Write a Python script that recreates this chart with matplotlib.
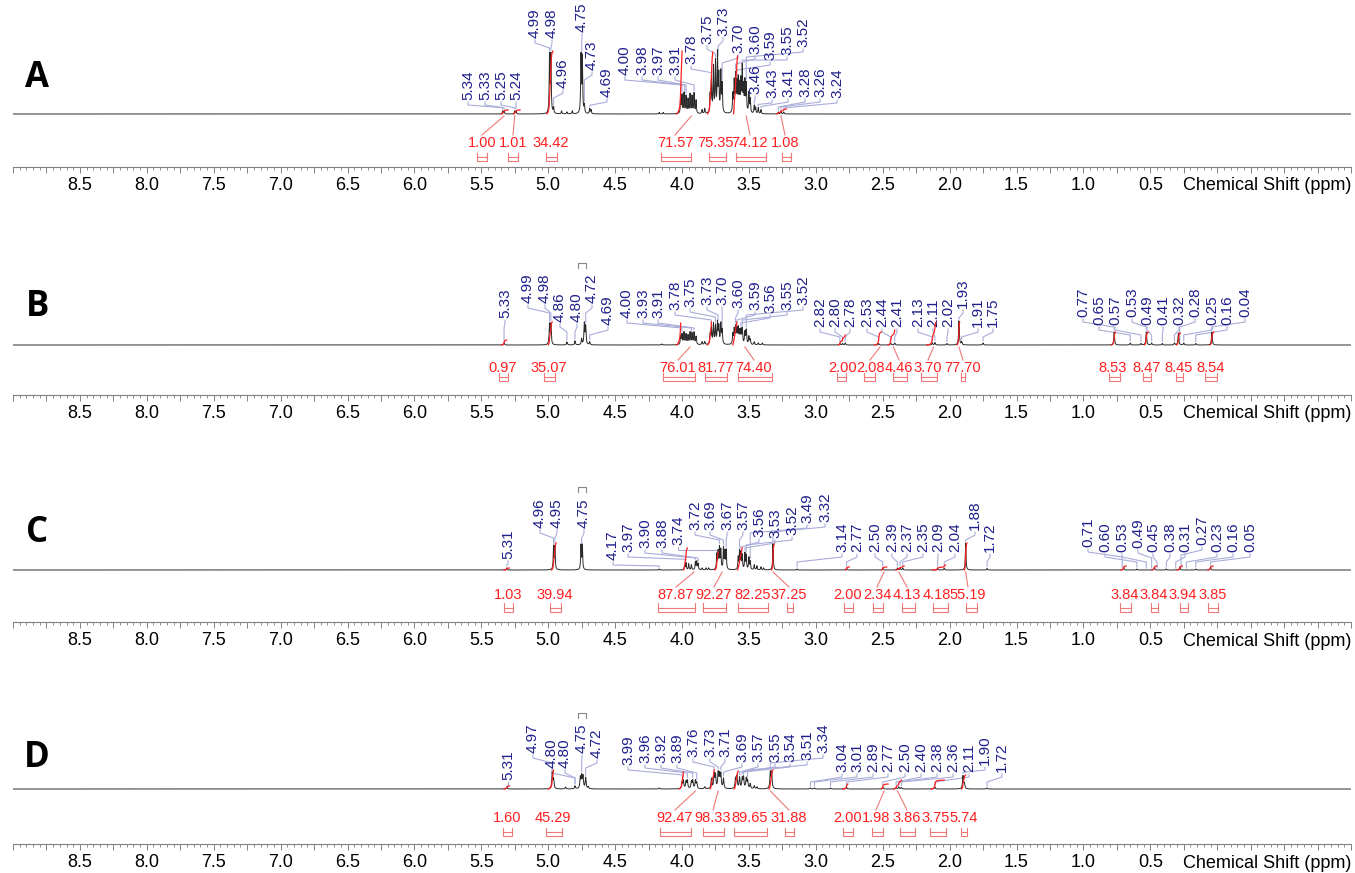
import numpy as np
import matplotlib
matplotlib.use("Agg")
import matplotlib.pyplot as plt
from matplotlib.ticker import MultipleLocator
import matplotlib.transforms as mtransforms

plt.rcParams['font.family'] = ['Liberation Sans', 'DejaVu Sans']

# ====================== DATA ======================
# --- Panel A ---
A_peak_ppm = [5.34, 5.33, 5.25, 5.24, 4.99, 4.98, 4.96, 4.90, 4.86, 4.82, 4.755, 4.745, 4.73, 4.69, 4.68,
              4.17, 4.14, 4.01, 4.00, 3.985, 3.97, 3.955, 3.94, 3.925, 3.91, 3.895, 3.85, 3.83,
              3.79, 3.78, 3.765, 3.75, 3.735, 3.725, 3.71, 3.70,
              3.62, 3.61, 3.60, 3.59, 3.58, 3.57, 3.56, 3.55, 3.54, 3.53, 3.52, 3.50, 3.49,
              3.46, 3.45, 3.43, 3.41, 3.28, 3.26, 3.24]
A_peak_int = [3, 3, 3, 3, 57, 57, 6, 3, 2, 3, 57, 55, 8, 5, 4,
              1.5, 1.5, 14, 18, 20, 17, 14, 19, 17, 20, 13, 4, 5,
              18, 34, 45, 50, 58, 36, 40, 28,
              18, 30, 36, 28, 32, 26, 30, 44, 24, 30, 28, 20, 14,
              8, 6, 6, 4, 2, 3, 2]
A_labels = ["5.34", "5.33", "5.25", "5.24", "4.99", "4.98", "4.96", "4.75", "4.73", "4.69",
            "4.00", "3.98", "3.97", "3.91", "3.78", "3.75", "3.73", "3.70", "3.60", "3.59",
            "3.55", "3.52", "3.46", "3.43", "3.41", "3.28", "3.26", "3.24"]
A_int_values = ["1.00", "1.01", "34.42", "71.57", "75.35", "74.12", "1.08"]
A_int_leader = [5.33, 5.25, None, 3.93, None, 3.52, 3.26]
A_int_curve_from = [5.35, 5.26, 5.01, 4.04, 3.81, 3.615, 3.29]
A_int_curve_to = [5.30, 5.21, 4.965, 4.00, 3.77, 3.585, 3.22]
A_int_curve_h = [4, 4, 63, 63, 62, 58, 5]

# --- Panel B ---
B_peak_ppm = [5.33, 4.99, 4.98, 4.86, 4.80, 4.75, 4.73, 4.72, 4.69, 4.15,
              4.01, 4.00, 3.985, 3.97, 3.955, 3.94, 3.925, 3.91, 3.895, 3.85, 3.83,
              3.79, 3.78, 3.765, 3.75, 3.735, 3.725, 3.71, 3.70,
              3.62, 3.61, 3.60, 3.59, 3.58, 3.57, 3.56, 3.55, 3.53, 3.52, 3.50, 3.49, 3.46, 3.43, 3.40,
              2.82, 2.80, 2.78, 2.53, 2.44, 2.41, 2.13, 2.11, 2.02, 1.93, 1.91, 1.75,
              0.77, 0.65, 0.57, 0.53, 0.49, 0.41, 0.32, 0.29, 0.25, 0.16, 0.04]
B_peak_int = [2, 20, 20, 3, 4, 6, 21, 18, 3, 1,
              8, 10, 12, 10, 9, 12, 11, 12, 8, 3, 3,
              10, 16, 20, 18, 21, 17, 20, 14,
              10, 14, 16, 14, 15, 12, 13, 15, 12, 14, 8, 5, 3, 2, 2,
              1.5, 1.5, 2, 1.5, 2, 2, 2, 2.5, 1.5, 24, 3, 2,
              13, 2, 1.5, 13, 2, 1.5, 2, 12, 2, 1.5, 13]
B_labels = ["5.33", "4.99", "4.98", "4.86", "4.80", "4.72", "4.69", "4.00", "3.93", "3.91",
            "3.78", "3.75", "3.73", "3.70", "3.60", "3.59", "3.56", "3.55", "3.52",
            "2.82", "2.80", "2.78", "2.53", "2.44", "2.41", "2.13", "2.11", "2.02", "1.93", "1.91", "1.75",
            "0.77", "0.65", "0.57", "0.53", "0.49", "0.41", "0.32", "0.28", "0.25", "0.16", "0.04"]
B_int_values = ["0.97", "35.07", "76.01", "81.77", "74.40", "2.00", "2.08", "4.46", "3.70", "77.70",
                "8.53", "8.47", "8.45", "8.54"]
B_int_leader = [None, None, 3.94, None, 3.53, None, 2.52, 2.42, 2.12, 1.93, None, None, None, None]
B_int_curve_from = [5.35, 5.00, 4.04, 3.81, 3.62, 2.83, 2.56, 2.46, 2.17, 1.945, 0.79, 0.545, 0.305, 0.055]
B_int_curve_to = [5.31, 4.97, 4.01, 3.78, 3.59, 2.78, 2.51, 2.41, 2.10, 1.925, 0.76, 0.515, 0.275, 0.025]
B_int_curve_h = [5, 23, 22, 23, 23, 10, 13, 15, 23, 23, 13, 13, 12, 13]

# --- Panel C ---
C_peak_ppm = [5.31, 4.96, 4.95, 4.755, 4.745, 4.17,
              3.98, 3.97, 3.95, 3.93, 3.90, 3.89, 3.88, 3.85, 3.82, 3.80,
              3.74, 3.73, 3.72, 3.71, 3.69, 3.68, 3.67,
              3.58, 3.57, 3.56, 3.55, 3.53, 3.52, 3.50, 3.49, 3.46, 3.44, 3.41, 3.39,
              3.32, 3.14, 2.77, 2.50, 2.39, 2.37, 2.35, 2.09, 2.04, 1.88, 1.72,
              0.70, 0.60, 0.47, 0.38, 0.28, 0.16, 0.05]
C_peak_int = [2, 23, 23, 24, 24, 1,
              5, 7, 6, 5, 8, 8, 6, 2, 2, 2,
              15, 17, 21, 19, 21, 17, 19,
              12, 18, 16, 14, 16, 14, 12, 8, 5, 4, 3, 2,
              26, 1, 2, 2, 2, 2.5, 2, 2, 2, 27, 1.5,
              3, 1, 3, 1, 3, 1, 3]
C_labels = ["5.31", "4.96", "4.95", "4.75", "4.17", "3.97", "3.90", "3.88", "3.74", "3.72",
            "3.69", "3.67", "3.57", "3.56", "3.53", "3.52", "3.49", "3.32", "3.14", "2.77",
            "2.50", "2.39", "2.37", "2.35", "2.09", "2.04", "1.88", "1.72",
            "0.71", "0.60", "0.53", "0.49", "0.45", "0.38", "0.31", "0.27", "0.23", "0.16", "0.05"]
C_int_values = ["1.03", "39.94", "87.87", "92.27", "82.25", "37.25", "2.00", "2.34", "4.13", "4.18",
                "55.19", "3.84", "3.84", "3.94", "3.85"]
C_int_leader = [None, None, 3.91, 3.70, None, 3.32, None, 2.49, 2.38, None, 1.88, None, None, None, None]
C_int_curve_from = [5.33, 4.975, 3.99, 3.755, 3.585, 3.33, 2.78, 2.51, 2.40, 2.13, 1.89, 0.72, 0.49, 0.30, 0.07]
C_int_curve_to = [5.29, 4.94, 3.96, 3.73, 3.55, 3.31, 2.75, 2.47, 2.34, 2.03, 1.87, 0.68, 0.45, 0.26, 0.03]
C_int_curve_h = [2, 27, 22, 18, 22, 26, 3, 3, 4, 5, 27, 4, 4, 4, 4]

# --- Panel D ---
D_peak_ppm = [5.31, 4.97, 4.96, 4.87, 4.80, 4.76, 4.75, 4.74, 4.72, 4.70, 4.17,
              4.00, 3.99, 3.97, 3.96, 3.93, 3.92, 3.90, 3.89, 3.83,
              3.78, 3.76, 3.75, 3.73, 3.72, 3.71, 3.69,
              3.60, 3.59, 3.57, 3.55, 3.54, 3.52, 3.51, 3.49, 3.46, 3.44,
              3.34, 3.33, 3.04, 3.01, 2.89, 2.77, 2.50, 2.40, 2.38, 2.36, 2.11, 1.90, 1.89, 1.72]
D_peak_int = [2, 16, 9, 2, 3, 11, 12, 12, 11, 2, 1,
              6, 8, 7, 8, 7, 8, 8, 6, 2,
              10, 14, 13, 15, 13, 14, 10,
              10, 12, 11, 10, 11, 10, 8, 5, 3, 2,
              16, 16, 1, 1, 1, 1.5, 2, 1.5, 2, 1.5, 2, 13, 5, 1]
D_labels = ["5.31", "4.97", "4.80", "4.80", "4.75", "4.72", "3.99", "3.96", "3.92", "3.89",
            "3.76", "3.73", "3.71", "3.69", "3.57", "3.55", "3.54", "3.51", "3.34",
            "3.04", "3.01", "2.89", "2.77", "2.50", "2.40", "2.38", "2.36", "2.11", "1.90", "1.72"]
D_int_values = ["1.60", "45.29", "92.47", "98.33", "89.65", "31.88", "2.00", "1.98", "3.86", "3.75", "5.74"]
D_int_leader = [None, None, 3.90, 3.73, None, 3.34, None, 2.49, 2.39, None, None]
D_int_curve_from = [5.33, 5.00, 4.02, 3.79, 3.61, 3.35, 2.80, 2.51, 2.42, 2.14, 1.91]
D_int_curve_to = [5.29, 4.96, 3.99, 3.76, 3.58, 3.32, 2.76, 2.46, 2.36, 2.04, 1.88]
D_int_curve_h = [3, 19, 17, 19, 18, 19, 5, 5, 9, 9, 14]

# ====================== LAYOUT (reference pixel positions) ======================
FW, FH = 1355.0, 873.0
X_LEFT, X_RIGHT = 13.0, 1351.0
PPM_LEFT, PPM_RIGHT = 9.0, -1.0


def col2ppm(x):
    return PPM_LEFT + (x - X_LEFT) / (X_RIGHT - X_LEFT) * (PPM_RIGHT - PPM_LEFT)


A_label_x = [468, 485, 501, 516, 535, 552, 563, 582, 592, 607, 625, 642, 658, 675, 691, 707, 723, 738,
             755, 770, 787, 803, 755, 772, 788, 805, 820, 837]
A_label_y = [100, 100, 100, 100, 38, 38, 88, 32, 70, 97, 75, 75, 75, 75, 64, 44, 36, 53,
             54, 60, 55, 47, 94, 98, 97, 97, 97, 98]
A_int_x = [482, 513, 551, 675, 715, 750, 785]
A_int_br = [(477, 487), (508, 518), (546, 557), (661, 691), (709, 726), (736, 766), (782, 791)]

B_label_x = [505, 528, 545, 560, 577, 592, 608, 627, 643, 658, 675, 690, 707, 722, 738, 755, 770, 787, 803,
             820, 835, 850, 867, 882, 897, 918, 933, 948, 963, 978, 993,
             1083, 1099, 1115, 1132, 1147, 1163, 1179, 1195, 1212, 1227, 1245]
B_label_y = [318, 303, 303, 322, 322, 303, 325, 318, 318, 318, 310, 307, 305, 305, 308, 310, 313, 310, 305,
             327, 327, 327, 327, 327, 327, 327, 327, 327, 308, 327, 327,
             317, 325, 325, 317, 325, 325, 325, 317, 325, 325, 317]
B_int_x = [503, 549, 678, 716, 754, 843, 870, 899, 928, 963, 1113, 1147, 1179, 1211]
B_int_br = [(499, 508), (544, 555), (663, 695), (705, 727), (738, 772), (837, 846), (864, 875), (893, 907),
            (921, 937), (961, 965), (1109, 1120), (1143, 1151), (1176, 1183), (1205, 1217)]

C_label_x = [508, 540, 557, 584, 613, 628, 645, 662, 678, 695, 710, 727, 743, 759, 775, 792, 807, 825,
             842, 857, 875, 892, 907, 923, 938, 955, 975, 990,
             1088, 1105, 1122, 1138, 1153, 1170, 1185, 1202, 1217, 1233, 1250]
C_label_y = [559, 528, 528, 528, 560, 552, 548, 548, 545, 530, 530, 530, 530, 537, 538, 535, 523, 522,
             552, 552, 552, 552, 552, 552, 552, 552, 530, 552,
             547, 552, 552, 548, 552, 552, 552, 545, 552, 552, 552]
C_int_x = [508, 555, 676, 714, 753, 789, 848, 877, 907, 937, 968, 1125, 1154, 1183, 1213]
C_int_br = [(504, 513), (550, 561), (658, 695), (703, 726), (738, 768), (787, 793), (844, 853), (873, 883),
            (902, 915), (933, 948), (966, 977), (1120, 1131), (1151, 1158), (1180, 1188), (1208, 1218)]

D_label_x = [508, 533, 552, 565, 582, 597, 628, 645, 661, 677, 693, 710, 725, 742, 758, 775, 790, 807, 823,
             842, 857, 873, 888, 905, 921, 937, 953, 969, 985, 1002]
D_label_y = [780, 753, 768, 768, 753, 758, 765, 763, 763, 763, 757, 757, 757, 762, 762, 762, 762, 760, 753,
             772, 772, 772, 772, 772, 772, 772, 772, 772, 765, 772]
D_int_x = [507, 553, 675, 713, 750, 789, 848, 876, 907, 936, 964]
D_int_br = [(503, 512), (546, 562), (660, 691), (703, 724), (734, 767), (785, 794), (843, 853), (872, 883),
            (900, 915), (930, 946), (961, 967)]

panels = [
    dict(name="A", ppm=A_peak_ppm, inten=A_peak_int, width=0.003, labels=A_labels, lx=A_label_x, ly=A_label_y,
         ivals=A_int_values, ix=A_int_x, ibr=A_int_br, ilead=A_int_leader,
         cf=A_int_curve_from, ct=A_int_curve_to, ch=A_int_curve_h,
         top=0, base=114, ilab=143, br=(153, 161), axis=167, letter=78, mark=None),
    dict(name="B", ppm=B_peak_ppm, inten=B_peak_int, width=0.0035, labels=B_labels, lx=B_label_x, ly=B_label_y,
         ivals=B_int_values, ix=B_int_x, ibr=B_int_br, ilead=B_int_leader,
         cf=B_int_curve_from, ct=B_int_curve_to, ch=B_int_curve_h,
         top=250, base=345, ilab=368, br=(373, 381), axis=395, letter=307, mark=(263, 268)),
    dict(name="C", ppm=C_peak_ppm, inten=C_peak_int, width=0.003, labels=C_labels, lx=C_label_x, ly=C_label_y,
         ivals=C_int_values, ix=C_int_x, ibr=C_int_br, ilead=C_int_leader,
         cf=C_int_curve_from, ct=C_int_curve_to, ch=C_int_curve_h,
         top=475, base=570, ilab=595, br=(603, 612), axis=622, letter=533, mark=(487, 492)),
    dict(name="D", ppm=D_peak_ppm, inten=D_peak_int, width=0.004, labels=D_labels, lx=D_label_x, ly=D_label_y,
         ivals=D_int_values, ix=D_int_x, ibr=D_int_br, ilead=D_int_leader,
         cf=D_int_curve_from, ct=D_int_curve_to, ch=D_int_curve_h,
         top=700, base=789, ilab=818, br=(828, 836), axis=844, letter=758, mark=(713, 718)),
]

MARK_RANGE = (4.78, 4.72)

BLUE = '#1f1f8c'
LINK = '#a9add9'
RED = '#ff1f1f'
PINK = '#f07878'
AXC = '#808080'

fig = plt.figure(figsize=(FW / 100, FH / 100), dpi=100)
grid = np.linspace(PPM_LEFT, PPM_RIGHT, 40001)

major = np.round(np.arange(PPM_LEFT, PPM_RIGHT - 1e-9, -0.25), 2)
tick_labels = [f"{v:.1f}" if (0.49 < v < 8.51 and abs(v * 2 - round(v * 2)) < 1e-6) else "" for v in major]

for P in panels:
    ax = fig.add_axes([X_LEFT / FW, 1 - P['axis'] / FH, (X_RIGHT - X_LEFT) / FW, (P['axis'] - P['top']) / FH])
    ax.set_xlim(PPM_LEFT, PPM_RIGHT)
    ax.set_ylim(P['axis'], P['top'])
    ax.patch.set_visible(False)
    for s in ['top', 'left', 'right']:
        ax.spines[s].set_visible(False)
    ax.spines['bottom'].set_color(AXC)
    ax.spines['bottom'].set_linewidth(0.8)
    ax.set_yticks([])
    ax.set_xticks(major, labels=tick_labels)
    ax.xaxis.set_minor_locator(MultipleLocator(0.05))
    ax.tick_params(axis='x', which='major', direction='out', length=4.5, width=0.7, color=AXC,
                   labelsize=13, pad=2.5)
    ax.tick_params(axis='x', which='minor', direction='out', length=2.5, width=0.6, color=AXC)

    # spectrum
    spec = np.zeros_like(grid)
    for c, h in zip(P['ppm'], P['inten']):
        spec += h / (1 + ((grid - c) / P['width']) ** 2)
    base = P['base']
    ax.plot(grid, base - spec, color='#2a2a2a', lw=0.7, zorder=3)

    # panel letter
    tr = mtransforms.blended_transform_factory(ax.transAxes, ax.transData)
    ax.text(0.018, P['letter'], P['name'], transform=tr, fontsize=25, fontweight='bold',
            family=['Open Sans', 'DejaVu Sans'], ha='center', va='center', color='black')

    # axis title
    ax.text(1.0, P['axis'] + 19, "Chemical Shift (ppm)", transform=tr, fontsize=13, ha='right',
            va='center', color='black')

    # peak labels with connectors
    for lab, lxp, lyp in zip(P['labels'], P['lx'], P['ly']):
        pk = float(lab)
        lx = col2ppm(lxp)
        m = np.abs(grid - pk) <= 0.004
        yt = base - spec[m].max()
        y0 = lyp + 2
        y1 = lyp + 5
        y3 = yt - 2
        y2 = max(min(lyp + 10, y3 - 1), y1)
        ax.plot([lx, lx, pk, pk], [y0, y1, y2, max(y3, y2)], color=LINK, lw=0.8, zorder=2)
        ax.text(lx, lyp, lab, rotation=90, ha='center', va='bottom', fontsize=11, color=BLUE)

    # integrals
    for val, ixp, (b0, b1), lead, cf, ct, chh in zip(P['ivals'], P['ix'], P['ibr'], P['ilead'],
                                                     P['cf'], P['ct'], P['ch']):
        x = col2ppm(ixp)
        ax.text(x, P['ilab'], val, ha='center', va='center', fontsize=10.5, color=RED)
        xa, xb = col2ppm(b0), col2ppm(b1)
        yt_, yb_ = P['br']
        ym = (yt_ + yb_) / 2
        ax.plot([xa, xa, xb, xb], [yt_, yb_, yb_, yt_], color=PINK, lw=0.8)
        ax.plot([xa, xb], [ym, ym], color=PINK, lw=0.8)
        if lead is not None:
            ax.plot([x, lead], [P['ilab'] - 8, base + 2], color=PINK, lw=0.8)
        # integral curve: cumulative integral of the spectrum over its range
        m = (grid <= cf) & (grid >= ct)
        seg = spec[m]
        cum = np.cumsum(seg)
        cum = cum / cum[-1]
        ax.plot(grid[m], base - chh * cum, color=RED, lw=0.9, zorder=4)

    # small bracket mark above the 4.75 signal
    if P['mark'] is not None:
        ya, yb = P['mark']
        ax.plot([MARK_RANGE[0], MARK_RANGE[0], MARK_RANGE[1], MARK_RANGE[1]], [yb, ya, ya, yb],
                color='#888888', lw=0.8)

fig.savefig("out.png", dpi=100)
